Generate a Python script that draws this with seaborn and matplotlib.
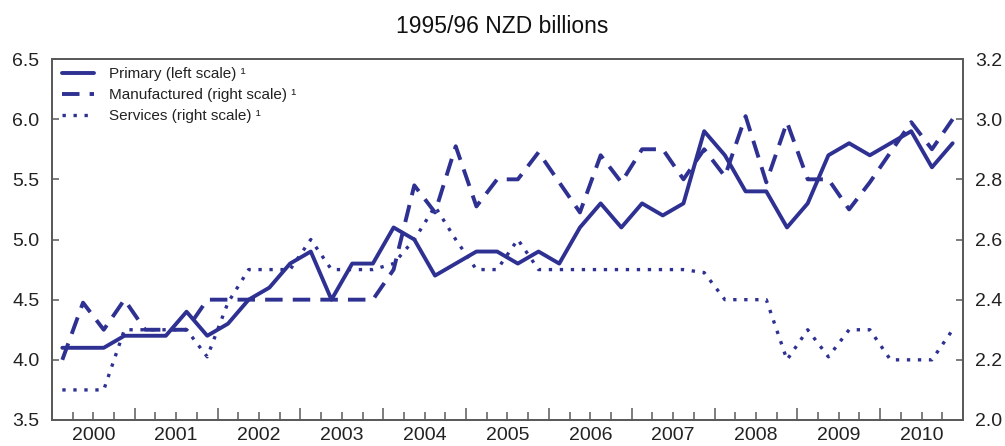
import matplotlib
matplotlib.use("Agg")
import matplotlib.pyplot as plt
import matplotlib.ticker as mticker
import numpy as np
import pandas as pd
import seaborn as sns

# Quarterly series, 2000Q1 - 2010Q4
years = list(range(2000, 2011))
quarters = [1, 2, 3, 4]

# left scale
primary = [4.1, 4.1, 4.1, 4.2,
           4.2, 4.2, 4.4, 4.2,
           4.3, 4.5, 4.6, 4.8,
           4.9, 4.5, 4.8, 4.8,
           5.1, 5.0, 4.7, 4.8,
           4.9, 4.9, 4.8, 4.9,
           4.8, 5.1, 5.3, 5.1,
           5.3, 5.2, 5.3, 5.9,
           5.7, 5.4, 5.4, 5.1,
           5.3, 5.7, 5.8, 5.7,
           5.8, 5.9, 5.6, 5.8]

# right scale
manufactured = [2.2, 2.39, 2.3, 2.4,
                2.3, 2.3, 2.3, 2.4,
                2.4, 2.4, 2.4, 2.4,
                2.4, 2.4, 2.4, 2.4,
                2.5, 2.78, 2.69, 2.91,
                2.71, 2.8, 2.8, 2.89,
                2.79, 2.69, 2.88, 2.79,
                2.9, 2.9, 2.8, 2.9,
                2.81, 3.01, 2.79, 2.99,
                2.8, 2.8, 2.7, 2.79,
                2.89, 2.99, 2.9, 3.0]

services = [2.1, 2.1, 2.1, 2.3,
            2.3, 2.3, 2.3, 2.21,
            2.39, 2.5, 2.5, 2.5,
            2.6, 2.5, 2.5, 2.5,
            2.52, 2.6, 2.71, 2.6,
            2.5, 2.5, 2.6, 2.5,
            2.5, 2.5, 2.5, 2.5,
            2.5, 2.5, 2.5, 2.49,
            2.4, 2.4, 2.4, 2.2,
            2.3, 2.21, 2.3, 2.3,
            2.2, 2.2, 2.2, 2.3]

title = "1995/96 NZD billions"
series_labels = ["Primary (left scale) \u00b9",
                 "Manufactured (right scale) \u00b9",
                 "Services (right scale) \u00b9"]

navy = "#2e3192"
frame = "#5a5a5a"

# x position = middle of each quarter
period = [y + (q - 0.5) / 4 for y in years for q in quarters]
df = pd.DataFrame({
    "period": period,
    "primary": primary,
    "manufactured": manufactured,
    "services": services,
})

sns.set_theme(style="white")
plt.rcParams["font.family"] = ["Liberation Sans", "DejaVu Sans"]

fig = plt.figure(figsize=(10.05, 4.46), dpi=100)
ax = fig.add_axes([0.0517, 0.0583, 0.9065, 0.8094])
ax2 = ax.twinx()

sns.lineplot(data=df, x="period", y="primary", ax=ax, color=navy,
             linewidth=2.8, legend=False)
sns.lineplot(data=df, x="period", y="manufactured", ax=ax2, color=navy,
             linewidth=2.8, linestyle=(0, (4.5, 2.6)), legend=False)
sns.lineplot(data=df, x="period", y="services", ax=ax2, color=navy,
             linewidth=2.4, linestyle=(0, (1.0, 2.3)), legend=False)

for a in (ax, ax2):
    a.set_xlabel("")
    a.set_ylabel("")
    for s in a.spines.values():
        s.set_color(frame)
        s.set_linewidth(1.3)

# x axis: year ticks long, quarter ticks short, labels centred in the year
ax.set_xlim(2000, 2011)
ax.xaxis.set_major_locator(mticker.FixedLocator(years + [2011]))
ax.xaxis.set_minor_locator(mticker.MultipleLocator(0.25))
ax.tick_params(axis="x", which="major", direction="in", length=9,
               width=1.1, color=frame, labelbottom=False, bottom=True)
ax.tick_params(axis="x", which="minor", direction="in", length=6,
               width=1.1, color=frame, bottom=True)

sec = ax.secondary_xaxis("bottom")
sec.set_xticks([y + 0.5 for y in years], [str(y) for y in years])
sec.tick_params(length=0, labelsize=14, pad=5, labelcolor="#222222")
sec.spines["bottom"].set_visible(False)

ax.set_ylim(3.5, 6.5)
ax.set_yticks(np.arange(3.5, 6.51, 0.5))
ax.yaxis.set_major_formatter(mticker.FormatStrFormatter("%.1f"))
ax.tick_params(axis="y", direction="in", length=5, width=1.1, color=frame,
               labelsize=14, pad=9, labelcolor="#222222", left=True)

ax2.set_ylim(2.0, 3.2)
ax2.set_yticks(np.arange(2.0, 3.21, 0.2))
ax2.yaxis.set_major_formatter(mticker.FormatStrFormatter("%.1f"))
ax2.tick_params(axis="y", direction="in", length=5, width=1.1, color=frame,
                labelsize=14, pad=9, labelcolor="#222222", right=True)

handles = ax.get_lines()[:1] + ax2.get_lines()[:2]
ax2.legend(handles, series_labels, loc="upper left",
           bbox_to_anchor=(0.011, 0.977), frameon=False, fontsize=11,
           handlelength=2.1, handletextpad=1.0, labelspacing=0.45,
           borderpad=0, borderaxespad=0, labelcolor="#222222")

fig.text(0.5, 0.94, title, ha="center", va="center", fontsize=16.5,
         color="#111111")

fig.savefig("out.png", dpi=100)
